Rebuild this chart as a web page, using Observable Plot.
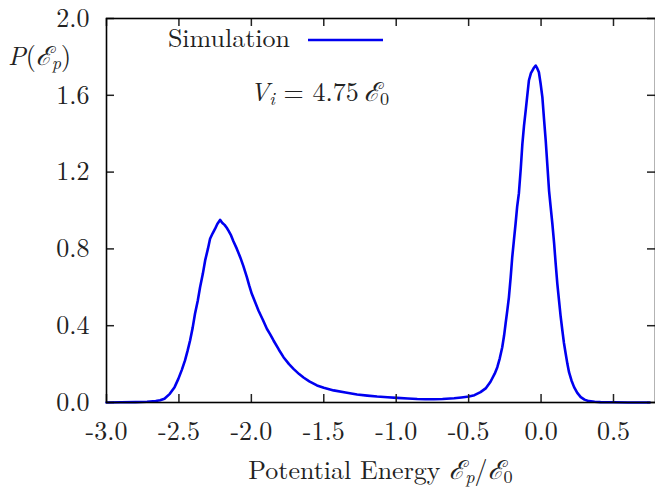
<!DOCTYPE html>
<html>
<head>
<meta charset="utf-8">
<script src="https://cdn.jsdelivr.net/npm/d3@7"></script>
<script src="https://cdn.jsdelivr.net/npm/@observablehq/plot@0.6"></script>
<style>
  html, body { margin: 0; padding: 0; background: #fff; }
  #chart svg { display: block; }
  #chart svg text { font-family: Latin Modern Roman, Liberation Serif, serif; }
</style>
</head>
<body>
<div id="chart"></div>
<script>
// ---- data ----
const energy = [
  -3.00, -2.90, -2.80, -2.72, -2.66, -2.63, -2.60, -2.563, -2.53, -2.504, -2.48, -2.458, -2.44, -2.423,
  -2.405, -2.389, -2.37, -2.354, -2.335, -2.319, -2.30, -2.285, -2.268, -2.25, -2.235, -2.216, -2.20,
  -2.185, -2.17, -2.158, -2.14, -2.124, -2.10, -2.077, -2.055, -2.031, -2.015, -1.997, -1.975, -1.951,
  -1.92, -1.893, -1.87, -1.847, -1.81, -1.778, -1.74, -1.709, -1.67, -1.64, -1.60, -1.547, -1.50, -1.432,
  -1.35, -1.27, -1.20, -1.132, -1.06, -0.994, -0.92, -0.855, -0.80, -0.74, -0.68, -0.60, -0.55, -0.498,
  -0.46, -0.418, -0.38, -0.349, -0.32, -0.302, -0.285, -0.268, -0.255, -0.245, -0.233, -0.222, -0.21,
  -0.199, -0.188, -0.176, -0.165, -0.153, -0.14, -0.129, -0.118, -0.106, -0.095, -0.084, -0.07, -0.06,
  -0.048, -0.037, -0.026, -0.015, -0.003, 0.009, 0.02, 0.032, 0.044, 0.055, 0.066, 0.078, 0.09, 0.101,
  0.112, 0.124, 0.135, 0.147, 0.158, 0.17, 0.182, 0.193, 0.21, 0.228, 0.25, 0.274, 0.30, 0.331, 0.37,
  0.41, 0.50, 0.60, 0.75
];
const probability = [
  0.000, 0.001, 0.002, 0.004, 0.008, 0.012, 0.020, 0.045, 0.080, 0.123, 0.170, 0.219, 0.270, 0.323,
  0.390, 0.462, 0.530, 0.600, 0.670, 0.740, 0.800, 0.853, 0.880, 0.905, 0.930, 0.951, 0.935,
  0.925, 0.910, 0.895, 0.870, 0.840, 0.800, 0.757, 0.710, 0.653, 0.610, 0.566, 0.525, 0.479,
  0.430, 0.384, 0.355, 0.323, 0.275, 0.236, 0.200, 0.175, 0.148, 0.130, 0.110, 0.089, 0.077, 0.063,
  0.052, 0.042, 0.036, 0.031, 0.027, 0.024, 0.021, 0.018, 0.017, 0.017, 0.018, 0.022, 0.026, 0.031,
  0.038, 0.054, 0.075, 0.108, 0.150, 0.184, 0.230, 0.288, 0.350, 0.410, 0.480, 0.548, 0.650,
  0.757, 0.840, 0.931, 1.020, 1.090, 1.220, 1.347, 1.440, 1.521, 1.600, 1.677, 1.715, 1.729,
  1.745, 1.755, 1.740, 1.720, 1.660, 1.590, 1.480, 1.365, 1.230, 1.104, 1.020, 0.931, 0.830, 0.722,
  0.620, 0.531, 0.450, 0.375, 0.310, 0.254, 0.200, 0.158, 0.115, 0.080, 0.050, 0.028, 0.015, 0.007, 0.004,
  0.002, 0.001, 0.000, 0.000
];
const xTicks = [-3.0, -2.5, -2.0, -1.5, -1.0, -0.5, 0.0, 0.5];
const yTicks = [0.0, 0.4, 0.8, 1.2, 1.6, 2.0];
const xDomain = [-3.0, 0.79];
const yDomain = [0, 2.0];
const seriesName = "Simulation";

// ---- layout ----
const W = 655, H = 488;
const mL = 106, mR = 0, mT = 18, mB = 86;
const innerW = W - mL - mR, innerH = H - mT - mB;
const tickLen = 8;
const font = "Latin Modern Roman, Liberation Serif, serif";
const fs = 26;
const ink = "#222";
const blue = "#0000f0";

const data = energy.map((e, i) => ({e, p: probability[i]}));
const fmt = d => d.toFixed(1);

const chart = Plot.plot({
  width: W, height: H,
  marginLeft: mL, marginRight: mR, marginTop: mT, marginBottom: mB,
  style: {fontFamily: font, fontSize: fs + "px", color: ink, background: "#fff"},
  x: {domain: xDomain},
  y: {domain: yDomain},
  marks: [
    Plot.line(data, {x: "e", y: "p", stroke: blue, strokeWidth: 2.6}),
    // inward ticks on all four sides
    Plot.ruleX(xTicks, {x: d => d, insetTop: innerH - tickLen, stroke: ink, strokeWidth: 1.5}),
    Plot.ruleX(xTicks, {x: d => d, insetBottom: innerH - tickLen, stroke: ink, strokeWidth: 1.5}),
    Plot.ruleY(yTicks, {y: d => d, insetRight: innerW - tickLen, stroke: ink, strokeWidth: 1.5}),
    Plot.ruleY(yTicks, {y: d => d, insetLeft: innerW - tickLen, stroke: ink, strokeWidth: 1.5}),
    Plot.frame({stroke: "#000", strokeWidth: 1.6}),
    Plot.axisX(xTicks, {tickSize: 0, tickPadding: 19, tickFormat: fmt, label: null, fill: ink, fontFamily: font}),
    Plot.axisY(yTicks, {tickSize: 0, tickPadding: 17, tickFormat: fmt, label: null, fill: ink, fontFamily: font})
  ]
});
chart.setAttribute("font-family", font);
document.getElementById("chart").appendChild(chart);

// ---- texts (labels, legend, annotation) ----
const svg = d3.select(chart);
const scriptE = "\u2130";
const thin = "\u2009";
function addText(x, y, anchor) {
  return svg.append("text")
    .attr("x", x).attr("y", y)
    .attr("text-anchor", anchor)
    .attr("fill", ink)
    .attr("font-family", font)
    .attr("font-size", fs)
    .style("font-family", font)
    .style("font-size", fs + "px");
}
function sub(t, s, italic) {
  t.append("tspan").attr("font-style", italic ? "italic" : "normal")
    .attr("font-size", "70%").attr("dy", 4).text(s);
}
// y label
{
  const t = addText(8, 65, "start");
  t.append("tspan").attr("font-style", "italic").text("P");
  t.append("tspan").text("(");
  t.append("tspan").attr("font-style", "italic").text(scriptE);
  sub(t, "p", true);
  t.append("tspan").attr("dy", -4).text(")");
}
// x label
{
  const t = addText(mL + innerW / 2, 479, "middle");
  t.append("tspan").text("Potential Energy ");
  t.append("tspan").attr("font-style", "italic").text(scriptE);
  sub(t, "p", true);
  t.append("tspan").attr("dy", -4).text("/");
  t.append("tspan").attr("font-style", "italic").text(scriptE);
  sub(t, "0", false);
}
// legend
{
  addText(290, 47, "end").text(seriesName);
  svg.append("line")
    .attr("x1", 308).attr("x2", 383).attr("y1", 40).attr("y2", 40)
    .attr("stroke", blue).attr("stroke-width", 2.6);
}
// annotation
{
  const t = addText(250, 101, "start");
  t.append("tspan").attr("font-style", "italic").text("V");
  sub(t, "i", true);
  t.append("tspan").attr("dy", -4).text(" = 4.75" + thin);
  t.append("tspan").attr("font-style", "italic").text(scriptE);
  sub(t, "0", false);
}
</script>
</body>
</html>
